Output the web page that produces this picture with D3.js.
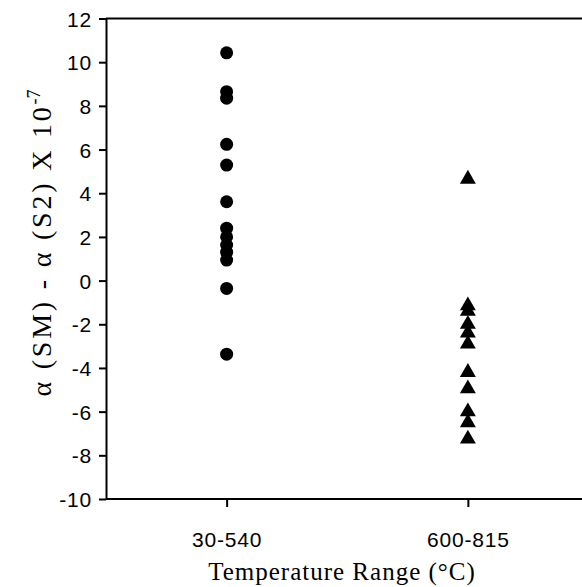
<!DOCTYPE html>
<html><head><meta charset="utf-8">
<script src="https://cdn.jsdelivr.net/npm/d3@7"></script>
<style>body{margin:0;background:#fff}svg{display:block}</style>
</head><body>
<script>
const categories = ["30-540", "600-815"];
const lowRangeValues = [10.43, 8.65, 8.35, 6.24, 5.29, 3.61, 2.4, 2.0, 1.63, 1.3, 0.94, -0.36, -3.37];
const highRangeValues = [4.65, -1.15, -1.4, -2.0, -2.4, -2.9, -4.2, -4.95, -6.0, -6.5, -7.25];
const yTicks = [-10, -8, -6, -4, -2, 0, 2, 4, 6, 8, 10, 12];

const W = 582, H = 587;
const svg = d3.select("body").append("svg").attr("width", W).attr("height", H);

const x = d3.scalePoint().domain(categories).range([106, 588.5]).padding(0.5);
const y = d3.scaleLinear().domain([-10, 12]).range([499, 18.5]);

// top border
svg.append("line").attr("x1", 106).attr("x2", 600).attr("y1", y(12)).attr("y2", y(12))
  .attr("stroke", "#000").attr("stroke-width", 2);

const yAxis = svg.append("g").attr("transform", "translate(106,0)")
  .call(d3.axisLeft(y).tickValues(yTicks).tickFormat(d => String(d)).tickSize(7).tickSizeOuter(0).tickPadding(7));
const xAxis = svg.append("g").attr("transform", `translate(0,${y(-10)})`)
  .call(d3.axisBottom(x).tickSize(8).tickSizeOuter(0).tickPadding(25));
xAxis.select(".domain").attr("d", `M106,0H600`);

[yAxis, xAxis].forEach(g => {
  g.selectAll(".domain, line").attr("stroke", "#000").attr("stroke-width", 2);
  g.selectAll("text").attr("font-family", "Liberation Sans, Arial, sans-serif")
    .attr("font-size", 21).attr("letter-spacing", 0.8).attr("fill", "#000");
});
yAxis.selectAll("text").attr("dy", "0.36em");

// circles
svg.append("g").selectAll("circle").data(lowRangeValues).join("circle")
  .attr("cx", x(categories[0])).attr("cy", d => y(d)).attr("r", 6.5).attr("fill", "#000");

// triangles
const tri = d3.symbol().type(d3.symbolTriangle).size(110);
svg.append("g").selectAll("path").data(highRangeValues).join("path")
  .attr("d", tri).attr("transform", d => `translate(${x(categories[1])},${y(d)})`).attr("fill", "#000");

// x title
svg.append("text").attr("x", 342).attr("y", 580).attr("text-anchor", "middle")
  .attr("font-family", "Liberation Serif, Times New Roman, serif").attr("font-size", 25)
  .attr("letter-spacing", 1).text("Temperature Range (°C)");

// y title
const yt = svg.append("text").attr("transform", "translate(51,243) rotate(-90)")
  .attr("text-anchor", "middle")
  .attr("font-family", "Liberation Serif, Times New Roman, serif").attr("font-size", 28)
  .attr("letter-spacing", 2.8);
yt.append("tspan").text("α (SM) - α (S2) X 10");
yt.append("tspan").attr("dy", -11).attr("font-size", 18).attr("letter-spacing", 0).text("-7");
</script>
</body></html>
